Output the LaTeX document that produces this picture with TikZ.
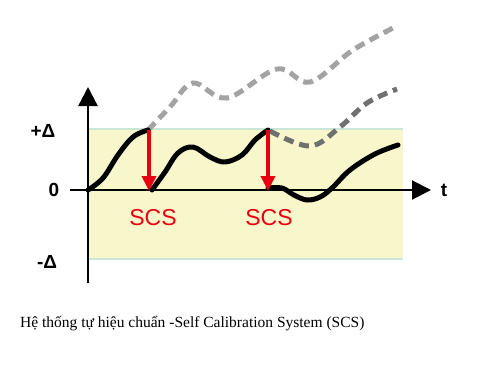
\documentclass[tikz,border=0pt]{standalone}
\usepackage{fontspec}
\setmainfont{Liberation Serif}
\newfontfamily\labelfont{Liberation Sans}
\usetikzlibrary{arrows.meta}
\definecolor{bandfill}{HTML}{F8F6CB}
\definecolor{bandline}{HTML}{CBE5D6}
\definecolor{scsred}{HTML}{E60012}
\definecolor{driftlight}{HTML}{A3A3A3}
\definecolor{driftdark}{HTML}{707070}
\tikzset{
  axislabel/.style={font=\labelfont\bfseries\fontsize{19}{19}\selectfont, inner sep=0},
  scslabel/.style={font=\labelfont\fontsize{23}{23}\selectfont, text=scsred, inner sep=0},
  signal/.style={line width=5pt, line cap=round, line join=round},
  drift/.style={line width=5pt, dash pattern=on 10pt off 6pt},
  correct/.style={scsred, line width=3.6pt, -{Triangle[length=15pt, width=14pt]}},
}
\begin{document}
\begin{tikzpicture}[x=1pt, y=-1pt]
\useasboundingbox (0,0) rectangle (479,365);
% tolerance band
\fill[bandfill] (88,129) rectangle (403,259);
\draw[bandline, line width=2.5pt] (88,129) -- (403,129);
\draw[bandline, line width=2.5pt] (88,259) -- (403,259);
% axes
\coordinate (O) at (88,190);
\coordinate (xstart) at (70,190);
\coordinate (xend) at (431,190);
\coordinate (ybottom) at (88,283);
\coordinate (ytop) at (88,87);
\draw[line width=2pt, -{Triangle[length=19pt, width=19pt]}] (xstart) -- (xend);
\draw[line width=2.4pt, -{Triangle[length=19pt, width=19pt]}] (ybottom) -- (ytop);
\node[axislabel] (tlabel) at (444,190) {t};
\node[axislabel] (plus) at (43,131) {+Δ};
\node[axislabel] (zero) at (54,190) {0};
\node[axislabel] (minus) at (47,262) {-Δ};
% drift without calibration
\draw[drift, driftlight] plot[smooth, tension=0.6] coordinates {(148,130) (170,107) (193,83) (227,98) (277,69) (310,82) (353,50) (397,26)};
\draw[drift, driftdark] plot[smooth, tension=0.6] coordinates {(270,131) (310,146) (340,127) (367,103) (397,89)};
% signal with SCS
\draw[signal] plot[smooth, tension=0.6] coordinates {(88,190) (103,178) (118,155) (133,137) (148,130)};
\draw[signal] plot[smooth, tension=0.6] coordinates {(152,190) (165,172) (178,153) (193,147) (210,157) (225,162) (242,155) (255,140) (268,130)};
\draw[signal] plot[smooth, tension=0.6] coordinates {(268,188) (282,188) (294,195) (307,200) (320,197) (332,188) (350,170) (375,154) (398,145)};
% calibration steps
\coordinate (top1) at (149,130);
\coordinate (bot1) at (149,191);
\coordinate (top2) at (268,130);
\coordinate (bot2) at (268,191);
\draw[correct] (top1) -- (bot1);
\draw[correct] (top2) -- (bot2);
\node[scslabel] (scs1) at (153,218) {SCS};
\node[scslabel] (scs2) at (269,218) {SCS};
% caption
\node[anchor=base west, inner sep=0, font=\fontsize{15.5}{15.5}\selectfont] (caption) at (20,327) {Hệ thống tự hiệu chuẩn -Self Calibration System (SCS)};
\end{tikzpicture}
\end{document}
